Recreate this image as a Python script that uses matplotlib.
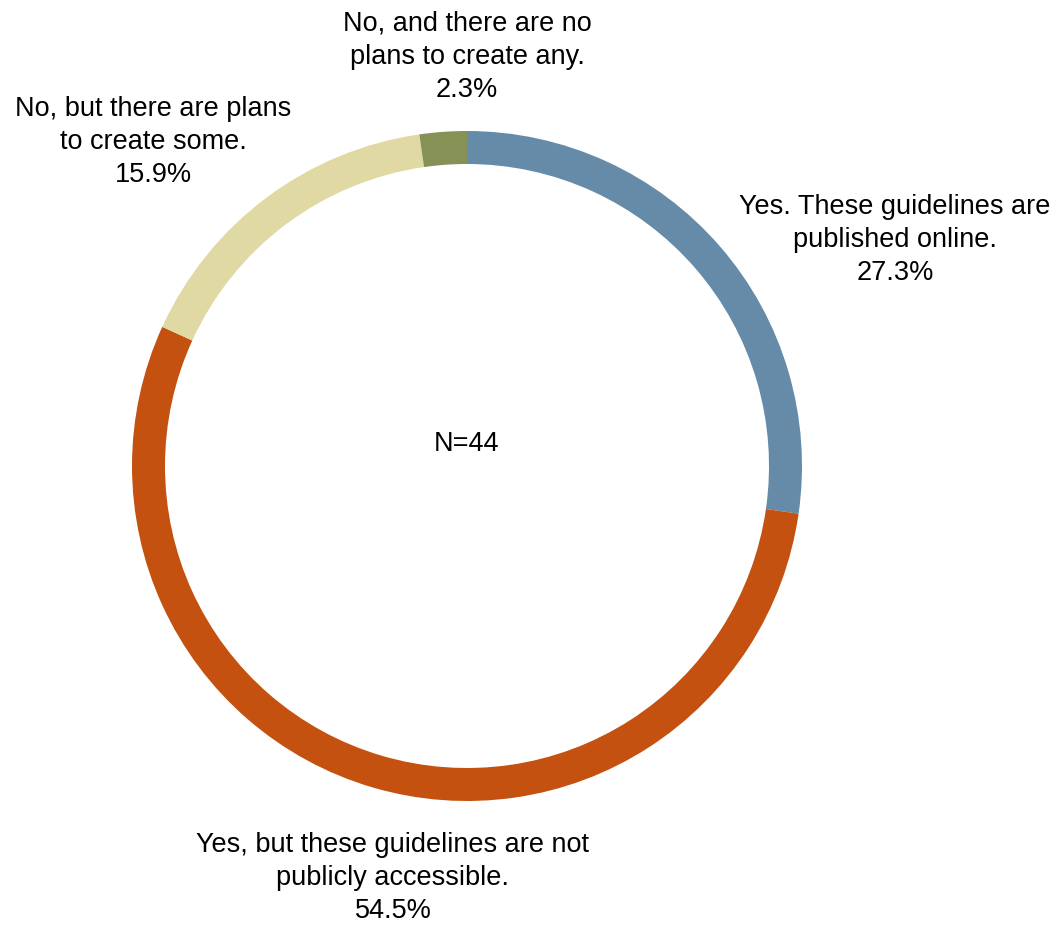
import matplotlib.pyplot as plt

plt.rcParams['font.family'] = ['Liberation Sans', 'DejaVu Sans']

labels = ["Yes. These guidelines are\npublished online.",
          "Yes, but these guidelines are not\npublicly accessible.",
          "No, but there are plans\nto create some.",
          "No, and there are no\nplans to create any."]
counts = [12, 24, 7, 1]
colors = ["#668ba8", "#c4510f", "#e0d9a3", "#869155"]
total = sum(counts)

fig = plt.figure(figsize=(10.57, 9.26), dpi=100)
ax = fig.add_axes([0, 0, 1, 1])

ax.pie(counts, colors=colors, startangle=90, counterclock=False,
       center=(467, 460), radius=335,
       wedgeprops=dict(width=33, edgecolor="none"))

# label positions in pixels (y from bottom)
label_pos = [(895, 686), (393, 48), (153, 784), (467, 869)]
for lab, c, (x, y) in zip(labels, counts, label_pos):
    ax.text(x, y, f"{lab}\n{c / total * 100:.1f}%", ha="center", va="center",
            fontsize=19.5, linespacing=1.35)

ax.text(467, 482, f"N={total}", ha="center", va="center", fontsize=19.5)

ax.set_xlim(0, 1057)
ax.set_ylim(0, 926)
ax.set_aspect("equal")
ax.axis("off")

fig.savefig("out.png", dpi=100)
